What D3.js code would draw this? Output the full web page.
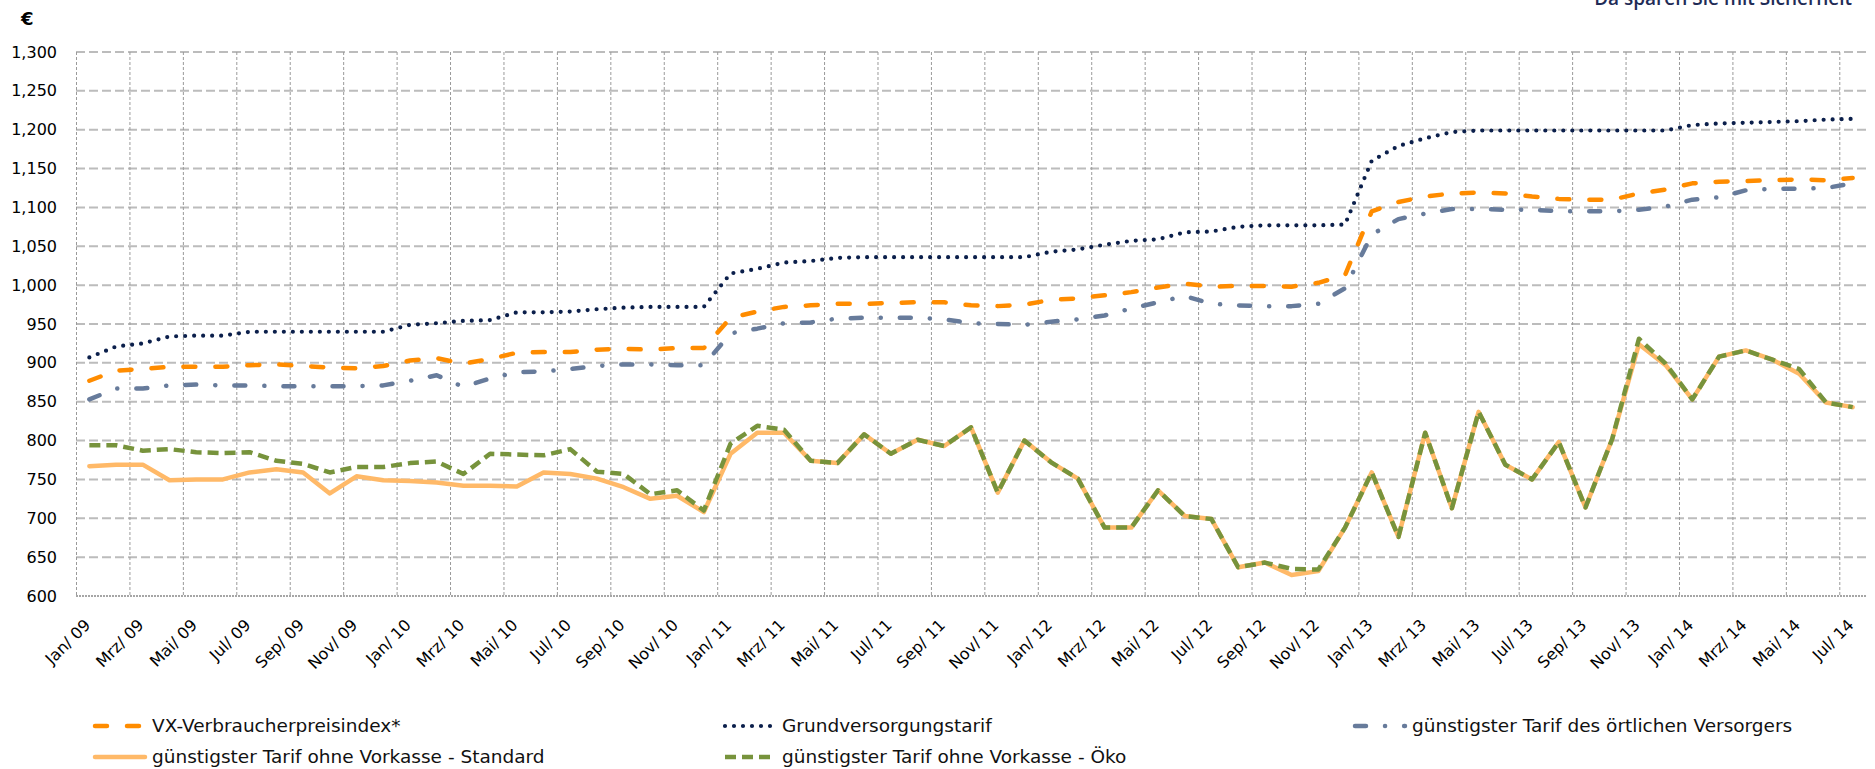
<!DOCTYPE html>
<html>
<head>
<meta charset="utf-8">
<script src="https://cdn.jsdelivr.net/npm/d3@7"></script>
<style>
  body { margin: 0; background: #fff; }
  svg { display: block; font-family: "DejaVu Sans", Verdana, sans-serif; }
</style>
</head>
<body>
<div id="chart"></div>
<script>
// month names + years for the category axis
var monthNames = ["Jan", "Feb", "Mrz", "Apr", "Mai", "Jun", "Jul", "Aug", "Sep", "Okt", "Nov", "Dez"];
var years = ["09", "10", "11", "12", "13", "14"];
var yTicks = [600, 650, 700, 750, 800, 850, 900, 950, 1000, 1050, 1100, 1150, 1200, 1250, 1300];

// series values (EUR / year), Jan 09 .. Jul 14
var vxIndex = [
  877, 890, 892, 895, 895, 895, 897, 898, 896, 894, 893, 896,
  903, 906, 899, 905, 913, 914, 914, 917, 918, 917, 919, 919,
  958, 966, 972, 974, 976, 976, 977, 978, 978, 974, 973, 975,
  981, 983, 987, 991, 997, 1002, 998, 999, 999, 998, 1003, 1013,
  1095, 1107, 1114, 1118, 1119, 1118, 1114, 1111, 1110, 1110, 1118, 1123,
  1131, 1133, 1134, 1135, 1136, 1135, 1138
];
var grundTarif = [
  907, 921, 925, 934, 935, 935, 940, 940, 940, 940, 940, 940,
  949, 951, 954, 955, 965, 965, 966, 969, 971, 972, 972, 972,
  1015, 1021, 1029, 1031, 1035, 1036, 1036, 1036, 1036, 1036, 1036, 1036,
  1043, 1046, 1052, 1057, 1059, 1068, 1069, 1075, 1077, 1077, 1077, 1078,
  1160, 1179, 1189, 1197, 1199, 1199, 1199, 1199, 1199, 1199, 1199, 1199,
  1206, 1208, 1209, 1210, 1211, 1213, 1214
];
var oertlich = [
  853, 867, 867, 871, 872, 871, 871, 870, 870, 870, 870, 871,
  877, 884, 869, 880, 888, 889, 892, 896, 898, 898, 897, 897,
  938, 944, 951, 952, 957, 958, 958, 958, 956, 951, 950, 949,
  953, 956, 961, 970, 978, 986, 976, 974, 973, 973, 976, 996,
  1065, 1085, 1092, 1098, 1098, 1097, 1097, 1095, 1095, 1095, 1097, 1101,
  1110, 1113, 1122, 1124, 1124, 1125, 1131
];
var standard = [
  767, 769, 769, 749, 750, 750, 759, 763, 759, 732, 754, 749,
  748, 746, 742, 742, 741, 759, 757, 751, 740, 725, 729, 708,
  783, 810, 810, 774, 771, 808, 783, 801, 793, 817, 733, 800,
  772, 751, 688, 688, 736, 703, 699, 637, 643, 627, 632, 688,
  759, 676, 810, 713, 837, 769, 750, 798, 714, 802, 924, 897,
  853, 908, 916, 904, 886, 849, 843
];
var oeko = [
  794, 794, 787, 789, 785, 784, 785, 774, 770, 759, 766, 766,
  771, 773, 757, 783, 782, 781, 789, 760, 757, 731, 736, 710,
  796, 819, 814, 774, 771, 808, 783, 801, 793, 817, 733, 800,
  772, 751, 688, 688, 736, 703, 699, 637, 643, 635, 634, 688,
  759, 676, 810, 713, 837, 769, 750, 798, 714, 802, 931, 899,
  853, 908, 916, 904, 892, 849, 843
];

// build category labels "Jan/ 09" ...
var months = [];
years.forEach(function (yy) {
  monthNames.forEach(function (m) { months.push(m + "/ " + yy); });
});
months = months.slice(0, vxIndex.length);

var width = 1875, height = 769;
var plot = { left: 76, right: 1866, top: 52, bottom: 596 };

var svg = d3.select("#chart").append("svg")
  .attr("width", width)
  .attr("height", height);

var x = d3.scaleBand().domain(months).range([plot.left, plot.right]).padding(0);
var y = d3.scaleLinear().domain([600, 1300]).range([plot.bottom, plot.top]);
var cx = function (i) { return x(months[i]) + x.bandwidth() / 2; };

// horizontal grid
svg.append("g")
  .selectAll("line")
  .data(yTicks.slice(1))
  .enter().append("line")
  .attr("x1", plot.left).attr("x2", plot.right)
  .attr("y1", d => y(d)).attr("y2", d => y(d))
  .attr("stroke", "#bcbcbc")
  .attr("stroke-width", 2)
  .attr("stroke-dasharray", "9,4");

// vertical grid, every 2 months
var gridMonths = months.filter((d, i) => i % 2 == 0);
svg.append("g")
  .selectAll("line")
  .data(gridMonths)
  .enter().append("line")
  .attr("x1", d => x(d) + 0.5).attr("x2", d => x(d) + 0.5)
  .attr("y1", plot.top).attr("y2", plot.bottom)
  .attr("stroke", "#9a9a9a")
  .attr("stroke-width", 1)
  .attr("stroke-dasharray", "3,2");

// bottom axis line (dotted)
svg.append("line")
  .attr("x1", plot.left).attr("x2", plot.right)
  .attr("y1", y(600)).attr("y2", y(600))
  .attr("stroke", "#a6a6a6")
  .attr("stroke-width", 2)
  .attr("stroke-dasharray", "2,1");

// y axis labels
var yAxis = d3.axisLeft(y).tickValues(yTicks).tickSize(0).tickPadding(19).tickFormat(d3.format(","));
var gy = svg.append("g").attr("transform", "translate(" + plot.left + ",0)").call(yAxis);
gy.select(".domain").remove();
gy.selectAll("text")
  .attr("font-family", '"DejaVu Sans", Verdana, sans-serif')
  .attr("font-size", 16)
  .attr("fill", "#000");

// x axis labels (rotated)
var xAxis = d3.axisBottom(x).tickValues(gridMonths).tickSize(0);
var gx = svg.append("g").attr("transform", "translate(0," + plot.bottom + ")").call(xAxis);
gx.select(".domain").remove();
gx.selectAll("text")
  .attr("font-family", '"DejaVu Sans", Verdana, sans-serif')
  .attr("font-size", 16)
  .attr("fill", "#000")
  .attr("text-anchor", "end")
  .attr("x", 0).attr("y", 0).attr("dy", 0)
  .attr("transform", "translate(2,30) rotate(-45)");

// series styles
var series = [
  { name: "günstigster Tarif ohne Vorkasse - Standard", values: standard, color: "#ffb968", dash: null, cap: "round" },
  { name: "günstigster Tarif ohne Vorkasse - Öko", values: oeko, color: "#77933c", dash: "11,6", cap: "butt" },
  { name: "günstigster Tarif des örtlichen Versorgers", values: oertlich, color: "#677b9b", dash: "11,19,0.1,19", cap: "round" },
  { name: "VX-Verbraucherpreisindex*", values: vxIndex, color: "#ff8c00", dash: "12,20", cap: "round" },
  { name: "Grundversorgungstarif", values: grundTarif, color: "#0b1f4b", dash: "0,9", cap: "round", w: 4.2 }
];

var line = d3.line()
  .x((d, i) => cx(i))
  .y(d => y(d));

svg.append("g")
  .selectAll("path")
  .data(series)
  .enter().append("path")
  .attr("d", d => line(d.values))
  .attr("fill", "none")
  .attr("stroke", d => d.color)
  .attr("stroke-width", d => d.w || 4.5)
  .attr("stroke-linejoin", "round")
  .attr("stroke-linecap", d => d.cap)
  .attr("stroke-dasharray", d => d.dash);

// legend
var legendItems = [
  { s: series[3], col: 93, row: 726 },
  { s: series[4], col: 723, row: 726 },
  { s: series[2], col: 1353, row: 726 },
  { s: series[0], col: 93, row: 757 },
  { s: series[1], col: 723, row: 757 }
];
var lg = svg.append("g").selectAll("g").data(legendItems).enter().append("g")
  .attr("transform", d => "translate(" + d.col + "," + d.row + ")");
lg.append("line")
  .attr("x1", 2).attr("x2", 52).attr("y1", 0).attr("y2", 0)
  .attr("stroke", d => d.s.color)
  .attr("stroke-width", d => d.s.w || 4.5)
  .attr("stroke-linecap", d => d.s.cap)
  .attr("stroke-dasharray", d => d.s.dash);
lg.append("text")
  .attr("x", 59).attr("y", 0).attr("dy", "0.35em")
  .attr("font-size", 18.5)
  .attr("fill", "#111")
  .text(d => d.s.name);

// unit + header (header is cut at the top edge, as in the source)
svg.append("text")
  .attr("x", 21).attr("y", 25)
  .attr("font-size", 18).attr("font-weight", "bold")
  .text("€");
svg.append("text")
  .attr("x", 1852).attr("y", 5)
  .attr("text-anchor", "end")
  .attr("font-family", '"Open Sans", sans-serif')
  .attr("font-size", 19).attr("font-weight", 600)
  .attr("fill", "#1f2c57")
  .text("Da sparen Sie mit Sicherheit");
</script>
</body>
</html>
